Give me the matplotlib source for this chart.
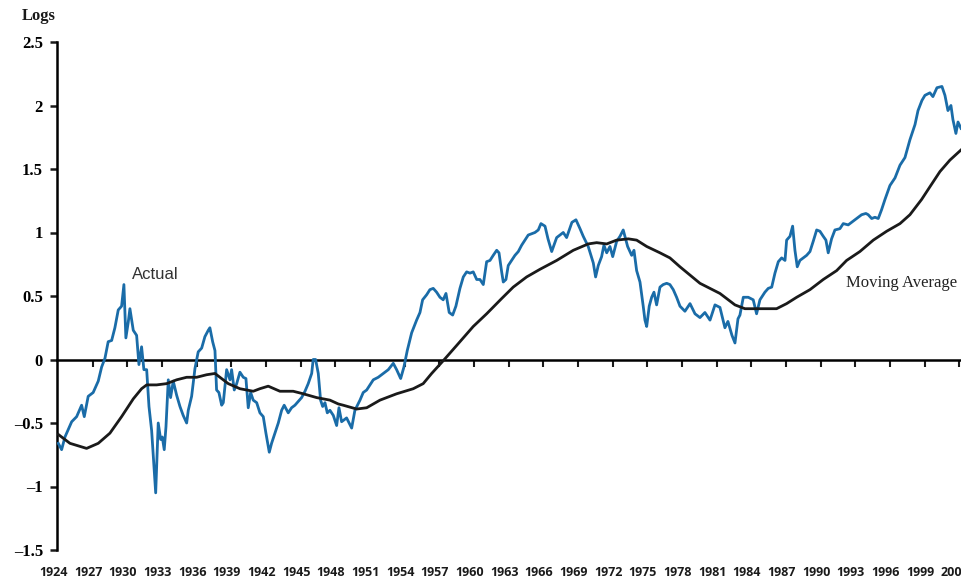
import matplotlib
matplotlib.use("Agg")
import matplotlib.pyplot as plt
import matplotlib.transforms as mtransforms

# ---- data (log values) ----
actual_years = [1924.03, 1924.32, 1924.61, 1925.19, 1925.62, 1926.05, 1926.28, 1926.62, 1927.05, 1927.49,
                1927.78, 1928.07, 1928.35, 1928.65, 1928.93, 1929.22, 1929.51, 1929.71, 1929.88, 1930.08,
                1930.23, 1930.52, 1930.81, 1931.01, 1931.24, 1931.44, 1931.68, 1931.88, 1932.11, 1932.46,
                1932.68, 1932.89, 1933.03, 1933.20, 1933.35, 1933.55, 1933.75, 1933.98, 1934.27, 1934.56,
                1934.84, 1935.14, 1935.28, 1935.57, 1935.86, 1936.14, 1936.44, 1936.72, 1937.01, 1937.15,
                1937.39, 1937.59, 1937.73, 1937.93, 1938.17, 1938.31, 1938.60, 1938.89, 1939.03, 1939.26,
                1939.47, 1939.75, 1940.04, 1940.27, 1940.47, 1940.68, 1940.90, 1941.20, 1941.48, 1941.77,
                1942.00, 1942.29, 1942.49, 1942.78, 1943.07, 1943.36, 1943.58, 1943.93, 1944.22, 1944.51,
                1944.80, 1945.09, 1945.38, 1945.66, 1945.96, 1946.09, 1946.30, 1946.53, 1946.73, 1946.91,
                1947.11, 1947.31, 1947.54, 1947.83, 1948.12, 1948.32, 1948.55, 1948.98, 1949.42, 1949.70,
                1950.14, 1950.42, 1950.72, 1951.00, 1951.29, 1951.72, 1952.15, 1952.59, 1953.02, 1953.31,
                1953.66, 1953.94, 1954.23, 1954.61, 1955.04, 1955.33, 1955.56, 1955.91, 1956.19, 1956.48,
                1956.77, 1957.06, 1957.34, 1957.58, 1957.86, 1958.16, 1958.44, 1958.79, 1959.08, 1959.37,
                1959.66, 1959.94, 1960.24, 1960.52, 1960.81, 1961.10, 1961.39, 1961.67, 1961.97, 1962.17,
                1962.40, 1962.54, 1962.77, 1962.97, 1963.26, 1963.55, 1963.84, 1964.13, 1964.42, 1964.70,
                1965.00, 1965.28, 1965.57, 1965.80, 1966.15, 1966.41, 1966.73, 1967.16, 1967.73, 1968.02,
                1968.48, 1968.83, 1969.18, 1969.46, 1969.89, 1970.33, 1970.53, 1970.76, 1971.05, 1971.25,
                1971.49, 1971.77, 1972.01, 1972.35, 1972.64, 1972.92, 1973.30, 1973.65, 1973.85, 1974.08,
                1974.37, 1974.65, 1974.80, 1974.95, 1975.17, 1975.38, 1975.58, 1975.81, 1976.10, 1976.38,
                1976.68, 1976.96, 1977.25, 1977.54, 1977.83, 1978.26, 1978.70, 1979.13, 1979.56, 1979.99,
                1980.43, 1980.86, 1981.29, 1981.72, 1981.98, 1982.33, 1982.59, 1982.85, 1983.02, 1983.31,
                1983.74, 1984.17, 1984.46, 1984.75, 1985.18, 1985.47, 1985.77, 1986.05, 1986.34, 1986.63,
                1986.92, 1987.06, 1987.35, 1987.58, 1987.78, 1987.98, 1988.21, 1988.50, 1988.79, 1989.08,
                1989.36, 1989.66, 1989.94, 1990.23, 1990.46, 1990.66, 1990.95, 1991.24, 1991.67, 1991.96,
                1992.39, 1992.68, 1993.12, 1993.55, 1993.92, 1994.12, 1994.42, 1994.70, 1994.99, 1995.28,
                1995.57, 1996.00, 1996.44, 1996.87, 1997.30, 1997.73, 1998.17, 1998.43, 1998.77, 1999.03,
                1999.46, 1999.72, 2000.07, 2000.50, 2000.76, 2001.02, 2001.28, 2001.45, 2001.71, 2001.89,
                2002.15]
actual_values = [-0.66, -0.71, -0.61, -0.49, -0.45, -0.36, -0.45, -0.29, -0.26, -0.17,
                 -0.06, 0.01, 0.14, 0.15, 0.25, 0.39, 0.42, 0.59, 0.17, 0.29,
                 0.40, 0.23, 0.19, -0.04, 0.10, -0.08, -0.08, -0.37, -0.56, -1.05,
                 -0.50, -0.63, -0.61, -0.71, -0.53, -0.16, -0.30, -0.17, -0.28, -0.37,
                 -0.44, -0.50, -0.40, -0.29, -0.07, 0.06, 0.09, 0.18, 0.23, 0.25,
                 0.14, 0.07, -0.24, -0.26, -0.36, -0.34, -0.08, -0.16, -0.08, -0.24,
                 -0.19, -0.10, -0.14, -0.15, -0.38, -0.26, -0.32, -0.34, -0.42, -0.45,
                 -0.58, -0.73, -0.66, -0.58, -0.50, -0.40, -0.36, -0.42, -0.38, -0.36,
                 -0.33, -0.30, -0.25, -0.19, -0.11, 0.00, 0.00, -0.11, -0.32, -0.37,
                 -0.34, -0.42, -0.40, -0.44, -0.52, -0.38, -0.49, -0.46, -0.54, -0.40,
                 -0.32, -0.26, -0.24, -0.20, -0.16, -0.14, -0.11, -0.08, -0.03, -0.08,
                 -0.15, -0.06, 0.07, 0.21, 0.31, 0.37, 0.47, 0.51, 0.55, 0.56,
                 0.53, 0.49, 0.47, 0.52, 0.37, 0.35, 0.42, 0.56, 0.65, 0.69,
                 0.68, 0.69, 0.63, 0.63, 0.59, 0.77, 0.78, 0.82, 0.86, 0.84,
                 0.69, 0.61, 0.63, 0.74, 0.78, 0.82, 0.85, 0.90, 0.94, 0.98,
                 0.99, 1.00, 1.02, 1.07, 1.05, 0.95, 0.85, 0.96, 1.00, 0.96,
                 1.08, 1.10, 1.03, 0.97, 0.89, 0.76, 0.65, 0.74, 0.81, 0.90,
                 0.84, 0.89, 0.81, 0.93, 0.97, 1.02, 0.89, 0.82, 0.86, 0.70,
                 0.61, 0.42, 0.31, 0.26, 0.42, 0.49, 0.53, 0.43, 0.57, 0.59,
                 0.60, 0.59, 0.55, 0.49, 0.42, 0.38, 0.44, 0.36, 0.33, 0.37,
                 0.31, 0.43, 0.41, 0.25, 0.30, 0.19, 0.13, 0.32, 0.35, 0.49,
                 0.49, 0.47, 0.36, 0.47, 0.53, 0.56, 0.57, 0.68, 0.77, 0.80,
                 0.78, 0.94, 0.97, 1.05, 0.86, 0.73, 0.78, 0.80, 0.82, 0.85,
                 0.93, 1.02, 1.01, 0.97, 0.94, 0.84, 0.95, 1.02, 1.03, 1.07,
                 1.06, 1.08, 1.11, 1.14, 1.15, 1.14, 1.11, 1.12, 1.11, 1.18,
                 1.26, 1.37, 1.43, 1.53, 1.59, 1.73, 1.85, 1.96, 2.04, 2.08,
                 2.10, 2.07, 2.14, 2.15, 2.08, 1.96, 2.00, 1.89, 1.78, 1.87,
                 1.82]

ma_years = [1924.03, 1925.04, 1926.48, 1927.49, 1928.50, 1929.51, 1930.52, 1931.24, 1931.68, 1932.54,
            1933.41, 1934.27, 1935.14, 1936.00, 1936.87, 1937.59, 1938.02, 1938.74, 1939.75, 1940.90,
            1941.48, 1942.20, 1943.21, 1944.36, 1945.23, 1946.39, 1947.54, 1948.26, 1948.69, 1949.85,
            1950.72, 1951.87, 1953.31, 1954.75, 1955.61, 1956.34, 1957.34, 1958.50, 1959.94, 1961.10,
            1962.40, 1963.40, 1964.56, 1965.71, 1967.16, 1968.60, 1969.89, 1970.62, 1971.49, 1972.35,
            1973.36, 1974.08, 1974.95, 1976.10, 1976.96, 1977.83, 1979.56, 1981.29, 1982.59, 1983.45,
            1984.17, 1985.33, 1986.19, 1987.06, 1987.93, 1989.08, 1990.23, 1991.39, 1992.25, 1993.40,
            1994.56, 1995.72, 1996.87, 1997.73, 1998.74, 1999.46, 2000.33, 2001.19, 2002.15]
ma_values = [-0.59, -0.66, -0.70, -0.66, -0.58, -0.45, -0.31, -0.23, -0.20, -0.20,
             -0.19, -0.16, -0.14, -0.14, -0.12, -0.11, -0.14, -0.19, -0.23, -0.25,
             -0.23, -0.21, -0.25, -0.25, -0.27, -0.30, -0.32, -0.35, -0.36, -0.39,
             -0.38, -0.32, -0.27, -0.23, -0.19, -0.11, -0.01, 0.11, 0.26, 0.36,
             0.48, 0.57, 0.65, 0.71, 0.78, 0.86, 0.91, 0.92, 0.91, 0.94,
             0.95, 0.94, 0.89, 0.84, 0.80, 0.73, 0.60, 0.52, 0.43, 0.40,
             0.40, 0.40, 0.40, 0.44, 0.49, 0.55, 0.63, 0.70, 0.78, 0.85,
             0.94, 1.01, 1.07, 1.14, 1.26, 1.36, 1.48, 1.57, 1.65]

tick_years = list(range(1924, 2003, 3))
y_ticks = [2.5, 2, 1.5, 1, 0.5, 0, -0.5, -1, -1.5]
y_tick_labels = ["2.5", "2", "1.5", "1", "0.5", "0", "\u20130.5", "\u20131", "\u20131.5"]

# ---- figure ----
W, H = 961, 580
fig = plt.figure(figsize=(W / 100, H / 100), dpi=100)
ax = fig.add_axes([57 / W, 1 - 550 / H, (W - 57) / W, 508 / H])
ax.set_xlim(1923.92, 2002.15)
ax.set_ylim(-1.5, 2.5)

ax.plot(actual_years, actual_values, color="#1a6ca8", lw=2.0, solid_joinstyle="round", zorder=3)
ax.plot(ma_years, ma_values, color="#1a1a1a", lw=2.0, zorder=4)

for s in ("top", "right"):
    ax.spines[s].set_visible(False)
ax.spines["left"].set_linewidth(1.8)
ax.spines["bottom"].set_position(("data", 0))
ax.spines["bottom"].set_linewidth(1.8)
ax.spines["bottom"].set_zorder(2)

ax.set_xticks(tick_years[1:])
ax.set_xticklabels([])
ax.tick_params(axis="x", direction="out", length=5, width=1.5, color="#1a1a1a")

ax.set_yticks(y_ticks)
ax.set_yticklabels(y_tick_labels, fontfamily="Liberation Serif", fontweight="bold", fontsize=12)
ax.tick_params(axis="y", direction="out", length=5, width=1.8, pad=5, color="#1a1a1a")

# bottom year labels
trans = mtransforms.blended_transform_factory(ax.transData, fig.transFigure)
for yr in tick_years:
    ax.text(yr - 1.62, 1 - 576.5 / H, str(yr), transform=trans, ha="left", va="baseline",
            fontsize=9, fontweight="bold", fontfamily="Open Sans", color="#1a1a1a", clip_on=False)

fig.text(22 / W, 1 - 20 / H, "Logs", ha="left", va="baseline", fontsize=12,
         fontweight="bold", fontfamily="Liberation Serif", color="#1a1a1a")

ax.text(1930.40, 0.63, "Actual", ha="left", va="baseline", fontsize=12,
        fontfamily="Liberation Sans", color="#333333")
ax.text(1992.20, 0.57, "Moving Average", ha="left", va="baseline", fontsize=12,
        fontfamily="Liberation Serif", color="#222222", clip_on=False)

fig.savefig("out.png", dpi=100)
